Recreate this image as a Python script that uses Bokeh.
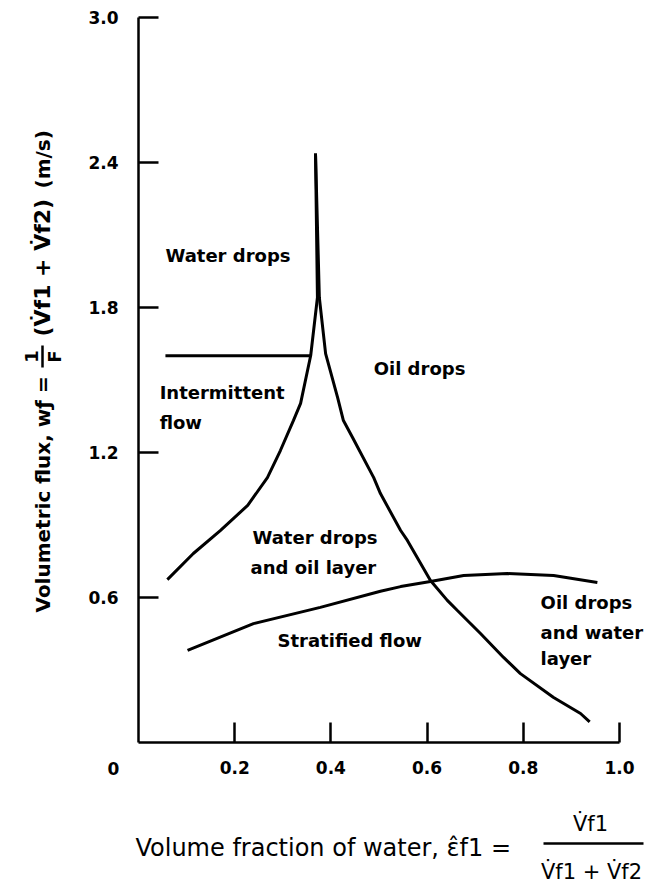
import math
from bokeh.plotting import figure
from bokeh.models import FixedTicker, Label, Arrow, Range1d, ColumnDataSource, LinearAxis
from bokeh.core.properties import value
from bokeh.embed import file_html
from bokeh.resources import INLINE

# ---- data ----
# left boundary (intermittent / water drops and oil layer), rising to the cusp
left_x = [0.060, 0.114, 0.170, 0.227, 0.268, 0.295, 0.322, 0.337, 0.358, 0.372, 0.368]
left_y = [0.674, 0.782, 0.877, 0.981, 1.096, 1.208, 1.332, 1.403, 1.601, 1.841, 2.437]

# right boundary (oil drops), falling from the cusp
right_x = [0.368, 0.376, 0.389, 0.414, 0.426, 0.445, 0.489, 0.503, 0.545, 0.559,
           0.607, 0.642, 0.663, 0.711, 0.759, 0.794, 0.863, 0.919, 0.938]
right_y = [2.437, 1.840, 1.609, 1.427, 1.332, 1.262, 1.096, 1.030, 0.877, 0.836,
           0.670, 0.588, 0.546, 0.451, 0.352, 0.285, 0.186, 0.120, 0.085]

# stratified-flow boundary
strat_x = [0.102, 0.239, 0.378, 0.503, 0.545, 0.607, 0.676, 0.767, 0.863, 0.954]
strat_y = [0.381, 0.492, 0.559, 0.626, 0.645, 0.666, 0.691, 0.699, 0.691, 0.662]

# horizontal boundary (water drops / intermittent flow)
horiz_x = [0.056, 0.358]
horiz_y = [1.6, 1.6]

x_ticks = [0.2, 0.4, 0.6, 0.8, 1.0]
x_tick_labels = ["0.2", "0.4", "0.6", "0.8", "1.0"]
y_ticks = [0.6, 1.2, 1.8, 2.4, 3.0]
y_tick_labels = ["0.6", "1.2", "1.8", "2.4", "3.0"]

region_text = ["Water drops", "Intermittent", "flow", "Oil drops",
               "Water drops", "and oil layer", "Stratified flow",
               "Oil drops", "and water", "layer"]
region_x = [0.056, 0.044, 0.044, 0.489, 0.237, 0.233, 0.289, 0.836, 0.836, 0.836]
region_y = [2.015, 1.448, 1.324, 1.547, 0.848, 0.724, 0.422, 0.579, 0.455, 0.348]

FONT = "DejaVu Sans"
W, H = 652, 894
# pixel placement of the axes inside the canvas
X0PX, XSCALE = 138.0, 481.0      # x=0 at 138 px, 481 px per unit
Y0PX, YSCALE = 742.0, 241.7      # y=0 at 742 px (from top), 241.7 px per unit

def dx(px):
    return (px - X0PX) / XSCALE

def dy(py):
    return (Y0PX - py) / YSCALE

p = figure(width=W, height=H,
           x_range=Range1d(dx(0), dx(W)), y_range=Range1d(dy(H), dy(0)),
           output_backend="svg", toolbar_location=None,
           x_axis_location=None, y_axis_location=None, min_border=0)
p.outline_line_color = None
p.grid.visible = False
p.background_fill_color = "white"
p.border_fill_color = "white"

xaxis = LinearAxis(fixed_location=0, bounds=(0, 1.0))
yaxis = LinearAxis(fixed_location=0, bounds=(0, 3.0))
for ax in (xaxis, yaxis):
    ax.axis_line_width = 2.5
    ax.axis_line_color = "black"
    ax.major_tick_line_width = 2.5
    ax.major_tick_line_color = "black"
    ax.major_tick_in = 20
    ax.major_tick_out = 0
    ax.minor_tick_line_color = None
    ax.major_label_text_font = FONT
    ax.major_label_text_font_style = "bold"
    ax.major_label_text_font_size = "17px"
    ax.major_label_text_color = "black"
xaxis.ticker = FixedTicker(ticks=x_ticks)
xaxis.major_label_overrides = dict(zip(x_ticks, x_tick_labels))
xaxis.major_label_standoff = 18
yaxis.ticker = FixedTicker(ticks=y_ticks)
yaxis.major_label_overrides = dict(zip(y_ticks, y_tick_labels))
yaxis.major_label_standoff = 20
p.add_layout(xaxis, "below")
p.add_layout(yaxis, "left")

lw = 3
p.line(left_x, left_y, line_width=lw, color="black")
p.line(right_x, right_y, line_width=lw, color="black")
p.line(strat_x, strat_y, line_width=lw, color="black")
p.line(horiz_x, horiz_y, line_width=lw, color="black")

src = ColumnDataSource(dict(x=region_x, y=region_y, t=region_text))
p.text(x="x", y="y", text="t", source=src, text_font=value(FONT),
       text_font_style="bold", text_font_size="18px",
       text_baseline="middle", text_align="left", text_color="black")

def label(px, py, text, size, bold=False, align="left", angle=0.0):
    p.add_layout(Label(x=dx(px), y=dy(py), text=text, angle=angle,
                       text_font=FONT, text_font_style="bold" if bold else "normal",
                       text_font_size=size, text_align=align,
                       text_baseline="middle", text_color="black"))

def bar(px0, py0, px1, py1):
    p.add_layout(Arrow(x_start=dx(px0), y_start=dy(py0), x_end=dx(px1), y_end=dy(py1),
                       end=None, line_width=2.5, line_color="black"))

# origin label
label(113, 768, "0", "17px", bold=True, align="center")

# y axis title (rotated, reads bottom to top)
rot = math.pi / 2
label(42, 612, "Volumetric flux, w\u0192 =", "20px", bold=True, angle=rot)
label(31, 356, "1", "18px", bold=True, align="center", angle=rot)
bar(42, 367, 42, 345)
label(54, 356, "F", "18px", bold=True, align="center", angle=rot)
label(42, 336, "(V\u0307f1 + V\u0307f2)", "22px", bold=True, angle=rot)
label(42, 188, "(m/s)", "20px", bold=True, angle=rot)

# x axis title with fraction
label(135, 847, "Volume fraction of water, \u03b5\u0302f1 =", "24px")
label(590, 823, "V\u0307f1", "21px", align="center")
bar(543, 843, 643, 843)
label(591, 871, "V\u0307f1 + V\u0307f2", "21px", align="center")

open("out.html", "w").write(file_html(p, INLINE))
